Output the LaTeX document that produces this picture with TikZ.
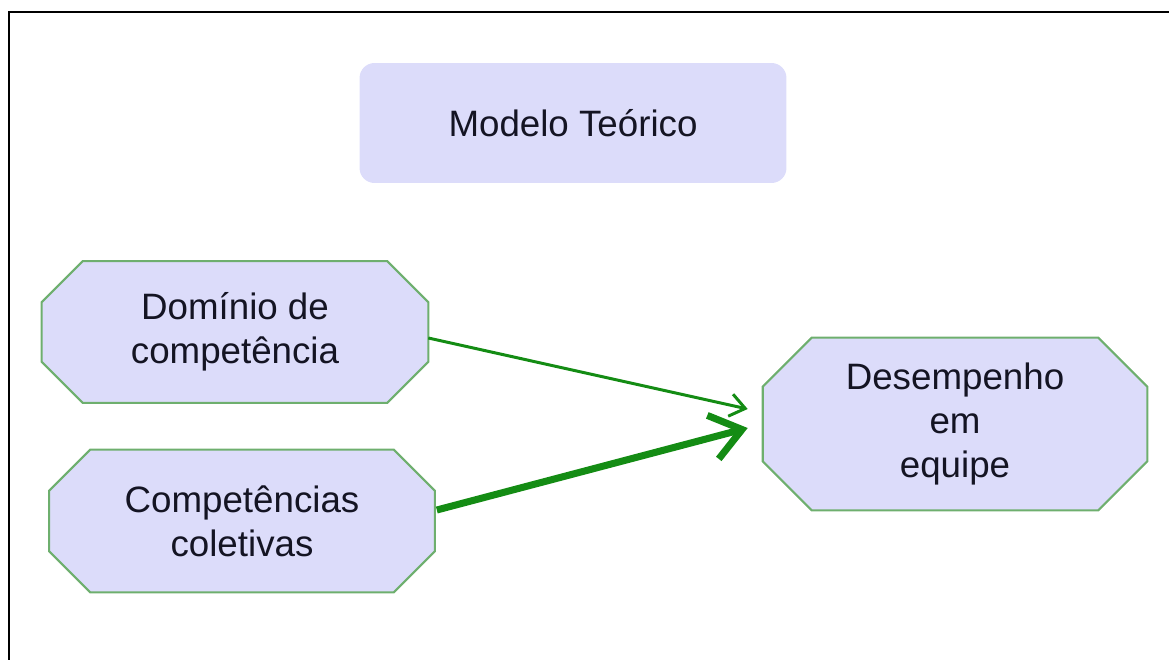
\documentclass[tikz,border=0pt]{standalone}
\usepackage{fontspec}
\setmainfont{Liberation Sans}
\usetikzlibrary{arrows.meta,calc,backgrounds}
\definecolor{boxfill}{RGB}{220,220,250}
\definecolor{boxline}{RGB}{110,175,110}
\definecolor{linkgreen}{RGB}{20,140,20}
\definecolor{textcol}{RGB}{20,20,35}
\tikzset{
  octbox/.style={rectangle, align=center, text=textcol, font=\fontsize{20.9}{25}\selectfont, inner sep=0pt},
  octline/.style={draw=boxline, fill=boxfill, line width=1.2pt},
  titlebox/.style={rectangle, rounded corners=0.3cm, fill=boxfill, text=textcol,
    font=\fontsize{20.9}{25}\selectfont, minimum width=8.54cm, minimum height=2.4cm},
  linkthin/.style={draw=linkgreen, line width=1.7pt, -{Straight Barb[length=0.3cm,width=0.45cm]}},
  linkthick/.style={draw=linkgreen, line width=4pt, -{Straight Barb[length=0.6cm,width=0.9cm]}}
}
% octagon round a node: #1 node, #2 cut
\newcommand{\octframe}[2]{%
  \filldraw[octline] ([xshift=#2]#1.north west) -- ([xshift=-#2]#1.north east)
    -- ([yshift=-#2]#1.north east) -- ([yshift=#2]#1.south east)
    -- ([xshift=-#2]#1.south east) -- ([xshift=#2]#1.south west)
    -- ([yshift=#2]#1.south west) -- ([yshift=-#2]#1.north west) -- cycle;}
\begin{document}
\begin{tikzpicture}[x=0.02cm,y=-0.02cm]
\useasboundingbox (0,0) rectangle (1169,660);
\draw[line width=0.05cm] (1169,12) -- (9,12) -- (9,660);
\node[titlebox] (model) at (573,123) {Modelo Teórico};
\node[octbox, minimum width=7.72cm, minimum height=2.82cm] (dom) at (235,332) {Domínio de\\competência};
\node[octbox, minimum width=7.7cm, minimum height=2.84cm] (col) at (242,521) {Competências\\coletivas};
\node[octbox, minimum width=7.68cm, minimum height=3.44cm] (des) at (955,424) {Desempenho\\em\\equipe};
\begin{scope}[on background layer]
\octframe{dom}{0.82cm}
\octframe{col}{0.82cm}
\octframe{des}{0.98cm}
\end{scope}
\coordinate (tipA) at ($(des.west)+(-15,-15)$);
\coordinate (tipB) at ($(des.west)+(-15,4)$);
\draw[linkthin] ($(dom.east)+(0,6)$) -- (tipA);
\draw[linkthick] ($(col.east)+(2,-11)$) -- (tipB);
\end{tikzpicture}
\end{document}
